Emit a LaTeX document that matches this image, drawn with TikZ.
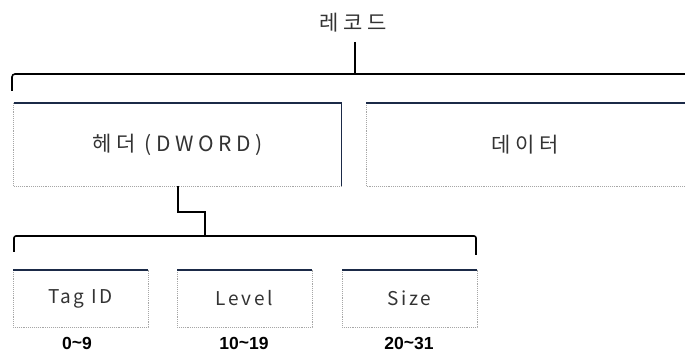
\documentclass[tikz,border=0pt]{standalone}
\usepackage{fontspec}
\newfontfamily\kr[LetterSpace=22]{Noto Sans CJK KR}
\newfontfamily\krl[LetterSpace=14]{Noto Sans CJK KR}
\newfontfamily\lbl{Liberation Sans}
\definecolor{navy}{HTML}{1B2A47}
\definecolor{txt}{HTML}{333333}
\begin{document}
\begin{tikzpicture}[x=1pt,y=1pt,
  boxnode/.style={inner sep=0pt, outer sep=0pt, text=txt},
  bigtxt/.style={font=\kr\fontsize{21}{25}\selectfont},
  smalltxt/.style={font=\krl\fontsize{19}{23}\selectfont},
  bitlabel/.style={font=\lbl\bfseries\fontsize{17.5}{20}\selectfont, text=black},
  edgedark/.style={draw=navy, line width=1.3pt},
  edgelight/.style={draw=gray!70, line width=0.9pt, densely dotted},
  bracket/.style={draw=black, line width=1.6pt}
]
\clip (0,0) rectangle (685,356);
\fill[white] (0,0) rectangle (685,356);
% title
\node[text=txt, bigtxt] (rec) at (353,333) {레코드};
% big boxes
\node[boxnode, minimum width=328, minimum height=83] (hdr) at (177.5,211.5) {};
\node[text=txt, bigtxt] (hdrt) at (hdr.center) {헤더 (DWORD)};
\node[boxnode, minimum width=340, minimum height=83] (dat) at (536,211.5) {};
\node[text=txt, bigtxt] (datt) at (525,211.5) {데이터};
\foreach \b in {hdr,dat}{
  \draw[edgelight] (\b.north west) -- (\b.south west) -- (\b.south east);
  \draw[edgedark] (\b.north west) -- (\b.north east) -- (\b.south east);
}
% small boxes
\node[boxnode, minimum width=135, minimum height=57] (tag) at (80.5,57.5) {};
\node[boxnode, minimum width=135, minimum height=57] (lev) at (244.5,57.5) {};
\node[boxnode, minimum width=135, minimum height=57] (siz) at (409.5,57.5) {};
\node[text=txt, smalltxt] at (tag.center) {Tag ID};
\node[text=txt, smalltxt] at (lev.center) {Level};
\node[text=txt, smalltxt] at (siz.center) {Size};
\foreach \b in {tag,lev,siz}{
  \draw[edgelight] (\b.north west) -- (\b.south west) -- (\b.south east) -- (\b.north east);
  \draw[edgedark] (\b.north west) -- (\b.north east);
}
\node[bitlabel] (l0) at (77,13) {0\raisebox{1pt}{\char`~}9};
\node[bitlabel] (l1) at (244,13) {10\raisebox{1pt}{\char`~}19};
\node[bitlabel] (l2) at (409,13) {20\raisebox{1pt}{\char`~}31};
% top bracket
\coordinate (tl) at (12,265);
\coordinate (tr) at (700,282);
\coordinate (tm) at (355,282);
\coordinate (tt) at (355,314);
\draw[bracket, rounded corners=3pt] (tl) |- (tr);
\draw[bracket] (tt) -- (tm);
% lower bracket
\coordinate (bl) at (14,104);
\coordinate (br) at (476,101);
\coordinate (bt) at (476,120);
\coordinate (bm) at (205,120);
\coordinate (hb) at (178,169.5);
\coordinate (hk) at (178,144);
\coordinate (hk2) at (205,144);
\draw[bracket, rounded corners=2pt] (bl) |- (bt) -- (br);
\draw[bracket] (hdr.south -| hb) -- (hk) -- (hk2) -- (bm);
\end{tikzpicture}
\end{document}
